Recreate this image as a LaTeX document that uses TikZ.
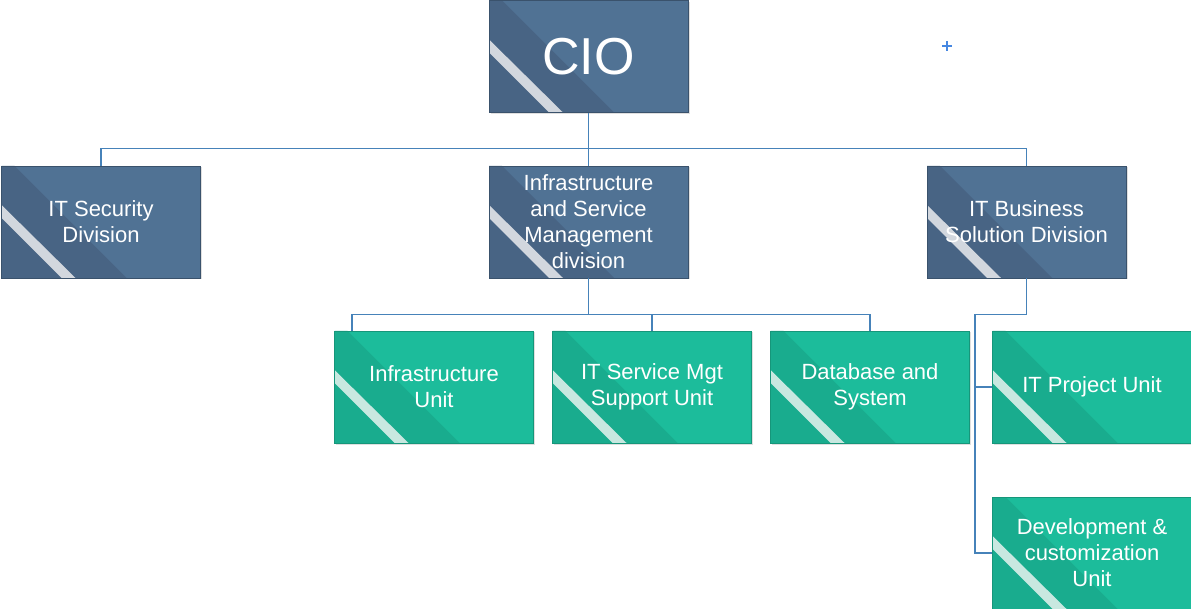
\documentclass[tikz,border=0pt]{standalone}
\usepackage{fontspec}
\setmainfont{Liberation Sans}
\usetikzlibrary{calc,shadows}
\definecolor{bluemain}{RGB}{80,114,148}
\definecolor{bluedark}{RGB}{72,100,132}
\definecolor{bluestripe}{RGB}{210,215,222}
\definecolor{blueborder}{RGB}{58,82,108}
\definecolor{greenmain}{RGB}{28,188,155}
\definecolor{greendark}{RGB}{25,172,142}
\definecolor{greenstripe}{RGB}{200,232,224}
\definecolor{greenborder}{RGB}{22,150,122}
\definecolor{conncol}{RGB}{70,130,185}
\definecolor{crosscol}{RGB}{70,135,225}
\tikzset{
  deco/.style 2 args={path picture={
    \fill[#1] (path picture bounding box.north west) -- ++(13,0)
      -- ($(path picture bounding box.south west)+(125,0)$)
      -- (path picture bounding box.south west) -- cycle;
    \fill[#2] ($(path picture bounding box.north west)+(0,39)$) -- ++(0,13)
      -- ($(path picture bounding box.south west)+(60,0)$) -- ++(14,0) -- cycle;
  }},
  orgbox/.style={rectangle, minimum width=199pt, minimum height=112pt, inner sep=0pt,
    text=white, align=center, font=\fontsize{22}{26}\selectfont, line width=0.8pt,
    drop shadow={shadow xshift=1.5pt, shadow yshift=-1.5pt, opacity=0.25, fill=gray}},
  bluebox/.style={orgbox, fill=bluemain, draw=blueborder, deco={bluedark}{bluestripe}},
  greenbox/.style={orgbox, fill=greenmain, draw=greenborder, deco={greendark}{greenstripe}},
  conn/.style={draw=conncol, line width=1.4pt}
}
\begin{document}
\begin{tikzpicture}[x=1pt,y=-1pt]
\useasboundingbox (0,0) rectangle (1191,609);
% boxes
\node[bluebox, font=\fontsize{52}{60}\selectfont] (cio) at (588.5,56.5) {CIO};
\node[bluebox] (sec) at (101,222) {IT Security\\Division};
\node[bluebox] (ism) at (588.5,222) {Infrastructure\\and Service\\Management\\division};
\node[bluebox] (biz) at (1026.5,222) {IT Business\\Solution Division};
\node[greenbox] (iu) at (434,387) {Infrastructure\\Unit};
\node[greenbox] (su) at (652,387) {IT Service Mgt\\Support Unit};
\node[greenbox] (db) at (870,387) {Database and\\System};
\node[greenbox] (ip) at (1092,387) {IT Project Unit};
\node[greenbox] (dev) at (1092,553) {Development \&\\customization\\Unit};
% connectors level 1
\draw[conn] (cio.south) -- (ism.north);
\draw[conn] (sec.north) -- ++(0,-17) -| (biz.north);
% connectors level 2 (infrastructure)
\coordinate (gbus) at ($(ism.south)+(0,36)$);
\draw[conn] (ism.south) -- (gbus);
\draw[conn] ($(iu.north west)+(18,0)$) |- (gbus -| db.north) -- (db.north);
\draw[conn] (gbus -| su.north) -- (su.north);
% connectors level 2 (business)
\coordinate (vbus) at ($(dev.west)+(-17,0)$);
\draw[conn] (biz.south) -- ++(0,36) -| (vbus) -- (dev.west);
\draw[conn] (vbus |- ip.west) -- (ip.west);
% small cross marker
\draw[crosscol, line width=1.6pt] (942,46) -- (952,46) (947,41) -- (947,51);
\end{tikzpicture}
\end{document}
